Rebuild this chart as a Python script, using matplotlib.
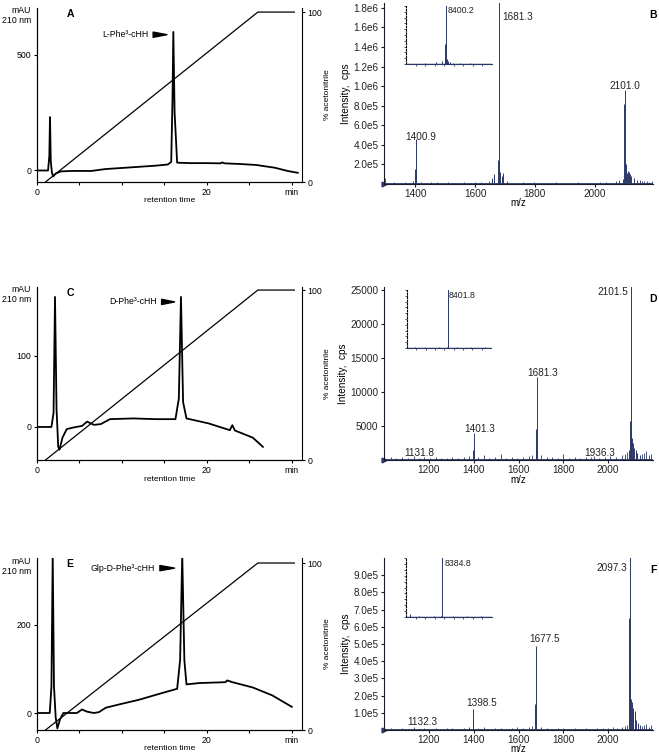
import matplotlib
matplotlib.use('Agg')
import matplotlib.pyplot as plt

plt.rcParams['font.family'] = ['Liberation Sans', 'DejaVu Sans']

# ---- HPLC traces: retention time (min) vs absorbance (mAU) ----
t_A = [0, 1.3, 1.45, 1.53, 1.62, 1.75, 1.9, 2.2, 2.8, 4, 6.4, 8, 10, 12, 14, 15.4, 15.8, 15.95, 16.05, 16.2, 16.5, 18, 20, 21.6, 21.8, 22.1, 24, 25.8, 28, 29.5, 30.7]
mau_A = [-2, -2, 60, 230, 40, -10, -28, -15, -6, -4, -4, 4, 9, 14, 19, 24, 35, 300, 600, 250, 32, 30, 30, 29, 33, 29, 26, 22, 10, -4, -12]

t_C = [0, 1.7, 1.95, 2.12, 2.3, 2.5, 2.65, 3.0, 3.5, 4.2, 5.3, 5.9, 6.7, 7.5, 8.6, 11.3, 14, 16.3, 16.7, 16.95, 17.2, 17.6, 20.2, 22.7, 23.0, 23.3, 25.4, 26.6]
mau_C = [0, 0, 20, 183, 25, -28, -32, -15, -3, -1, 1.5, 7.5, 3, 4, 11, 12, 11, 11, 40, 183, 35, 12, 5, -4.5, 2.5, -5, -15, -28]

t_E = [0, 1.5, 1.7, 1.85, 2.0, 2.2, 2.4, 2.7, 3.1, 4.7, 5.3, 5.9, 6.7, 7.3, 8.1, 10, 12, 14.3, 16.5, 16.85, 17.1, 17.35, 17.6, 19.1, 22.2, 22.4, 23, 25.4, 27.7, 30]
mau_E = [0, 0, 60, 360, 60, -10, -35, -15, 0, 0, 8, 3, 0, 2, 12, 21, 30, 43, 55, 120, 360, 120, 65, 68, 70, 74, 70, 58, 40, 14]

# acetonitrile gradient (%)
grad_t = [1, 26, 30.3]
grad_pct = [0, 100, 100]

# ---- mass spectra: m/z vs intensity (cps) ----
pk_mz_B = [1399.0, 1400.9, 1655, 1662, 1676, 1678.5, 1681.3, 1684, 1689, 1694, 2096, 2099, 2101.0, 2104, 2107, 2110, 2114, 2118, 2123, 2130, 2140]
pk_int_B = [1.5e5, 4.6e5, 6e4, 1.0e5, 2.5e5, 1.15e6, 1.95e6, 1.2e5, 8e4, 1.1e5, 5e4, 8.2e5, 9.6e5, 2e5, 1.1e5, 1.3e5, 1.2e5, 1e5, 8e4, 6e4, 4.5e4]
noise_mz_B = [1297, 1312, 1330, 1348, 1365, 1382, 1392, 1418, 1436, 1452,
              1471, 1489, 1508, 1526, 1545, 1563, 1582, 1600, 1618, 1637,
              1647, 1705, 1722, 1741, 1760, 1778, 1797, 1815, 1834, 1852,
              1871, 1889, 1908, 1926, 1945, 1963, 1982, 2000, 2019, 2037,
              2056, 2070, 2082, 2150, 2158, 2166, 2175, 2183, 2191]
noise_int_B = [6e4, 1.2e4, 1.8e4, 1.0e4, 2.2e4, 1.5e4, 3.5e4, 2.5e4, 1.2e4, 1.8e4,
               2.0e4, 1.0e4, 1.6e4, 1.2e4, 1.4e4, 2.2e4, 1.0e4, 1.8e4, 2.4e4, 1.2e4,
               3.0e4, 2.8e4, 1.4e4, 1.0e4, 1.6e4, 1.2e4, 2.0e4, 1.0e4, 1.4e4, 1.2e4,
               1.8e4, 1.0e4, 1.4e4, 1.2e4, 1.6e4, 1.0e4, 1.4e4, 1.2e4, 1.8e4, 2.0e4,
               1.5e4, 3.0e4, 4.0e4, 4.0e4, 3.5e4, 3.0e4, 3.5e4, 2.5e4, 3.0e4]

pk_mz_D = [1399, 1401.3, 1677, 1679, 1681.3, 1684, 2093, 2096, 2098, 2101.5, 2104, 2107, 2111, 2116, 2122, 2130, 2140]
pk_int_D = [1500, 4000, 1500, 4500, 12200, 1500, 1500, 3000, 5800, 26000, 3500, 3300, 2500, 1800, 1500, 1000, 800]
noise_mz_D = [1005, 1030, 1055, 1080, 1105, 1131.8, 1155, 1180, 1205, 1230,
              1255, 1280, 1305, 1330, 1355, 1380, 1420, 1445, 1470, 1495,
              1520, 1545, 1570, 1595, 1620, 1645, 1660, 1700, 1725, 1750,
              1775, 1800, 1825, 1850, 1875, 1900, 1925, 1936.3, 1960, 1985,
              2010, 2035, 2060, 2075, 2085, 2150, 2160, 2170, 2180, 2190]
noise_int_D = [300, 400, 250, 500, 350, 600, 300, 400, 250, 450,
               300, 350, 500, 300, 400, 600, 450, 700, 350, 400,
               900, 350, 500, 300, 450, 600, 800, 700, 400, 500,
               350, 900, 300, 450, 350, 500, 400, 600, 350, 450,
               600, 400, 700, 900, 1200, 900, 1000, 1300, 800, 900]

pk_mz_F = [1396, 1398.5, 1675, 1677.5, 1680, 2093, 2095, 2097.3, 2099, 2102, 2105, 2109, 2113, 2118, 2124, 2132, 2142]
pk_int_F = [4e4, 1.2e5, 1.5e5, 4.9e5, 5e4, 5e4, 6.5e5, 1.1e6, 3.5e5, 1.8e5, 1.6e5, 1.3e5, 1e5, 1.1e5, 6e4, 4e4, 3e4]
noise_mz_F = [1005, 1030, 1055, 1080, 1105, 1132.3, 1155, 1180, 1205, 1230,
              1255, 1280, 1305, 1330, 1355, 1380, 1420, 1445, 1470, 1495,
              1520, 1545, 1570, 1595, 1620, 1645, 1660, 1700, 1725, 1750,
              1775, 1800, 1825, 1850, 1875, 1900, 1925, 1950, 1975, 2000,
              2020, 2040, 2060, 2075, 2085, 2150, 2160, 2170, 2180, 2190]
noise_int_F = [8e3, 1.2e4, 6e3, 1e4, 8e3, 1.5e4, 7e3, 1e4, 6e3, 1.2e4,
               8e3, 1e4, 1.4e4, 7e3, 1e4, 1.8e4, 1.2e4, 1.5e4, 8e3, 1e4,
               1.2e4, 8e3, 1e4, 1.5e4, 1.2e4, 1.8e4, 2.5e4, 1.5e4, 1e4, 8e3,
               1e4, 1.4e4, 8e3, 1e4, 7e3, 1e4, 8e3, 1.2e4, 1e4, 1.4e4,
               1.5e4, 1.2e4, 2e4, 2.5e4, 3e4, 2.5e4, 3e4, 3.5e4, 2e4, 3e4]

# deconvoluted insets (relative intensity)
ins_mz_B = [8180, 8300, 8360, 8392, 8397, 8400.2, 8404, 8410, 8420, 8440, 8480, 8550, 8650]
ins_int_B = [0.02, 0.03, 0.05, 0.08, 0.35, 1.05, 0.12, 0.08, 0.05, 0.04, 0.02, 0.02, 0.01]
ins_mz_D = [8050, 8150, 8300, 8395, 8401.8, 8406, 8500, 8650, 8800]
ins_int_D = [0.01, 0.01, 0.01, 0.02, 1.05, 0.04, 0.01, 0.01, 0.01]
ins_mz_F = [8053, 8150, 8300, 8378, 8384.8, 8390, 8500, 8650, 8800]
ins_int_F = [0.05, 0.01, 0.01, 0.02, 1.05, 0.06, 0.01, 0.01, 0.01]

yt_B = [2e5, 4e5, 6e5, 8e5, 1e6, 1.2e6, 1.4e6, 1.6e6, 1.8e6]
ytl_B = ['2.0e5', '4.0e5', '6.0e5', '8.0e5', '1.0e6', '1.2e6', '1.4e6', '1.6e6', '1.8e6']
yt_D = [5000, 10000, 15000, 20000, 25000]
ytl_D = ['5000', '10000', '15000', '20000', '25000']
yt_F = [1e5, 2e5, 3e5, 4e5, 5e5, 6e5, 7e5, 8e5, 9e5]
ytl_F = ['1.0e5', '2.0e5', '3.0e5', '4.0e5', '5.0e5', '6.0e5', '7.0e5', '8.0e5', '9.0e5']

W, H = 659, 754
NAVY = '#2b3868'


def rect(l, t, r, b):
    return [l / W, 1 - b / H, (r - l) / W, (b - t) / H]


fig = plt.figure(figsize=(W / 100, H / 100), dpi=100)


def hplc(box, t, mau, ylim, yticks, name, name_xy, tip_xy, letter, gtop, tly):
    ax = fig.add_axes(rect(*box))
    ax.plot(t, mau, color='k', lw=1.3)
    ax.set_xlim(0, 31.2)
    ax.set_ylim(*ylim)
    ax.set_yticks(yticks)
    ax.set_xticks([0, 5, 10, 15, 20, 25, 30])
    ax.set_xticklabels(['0', '', '', '', '20', '', 'min'])
    for s in ['top', 'right']:
        ax.spines[s].set_visible(False)
    ax.tick_params(labelsize=6.3, length=2.5, width=0.8, pad=1.5)
    ax.set_xlabel('retention time', fontsize=6, va='center')
    ax.xaxis.set_label_coords(0.5, -19 / (box[3] - box[1]))
    ax2 = ax.twinx()
    ax2.plot(grad_t, grad_pct, color='k', lw=0.9)
    ax2.set_ylim(0, gtop)
    ax2.set_yticks([0, 100])
    ax2.spines['top'].set_visible(False)
    ax2.tick_params(labelsize=6.3, length=2.5, width=0.8, pad=1.5)
    ax2.set_ylabel('% acetonitrile', fontsize=6, labelpad=1)
    ax.annotate(name, xy=tip_xy, xytext=name_xy, ha='right', va='center', fontsize=6.3,
                arrowprops=dict(arrowstyle='wedge,tail_width=0.6', color='k',
                                shrinkA=1.5, shrinkB=0))
    fig.text(31 / W, 1 - tly / H, 'mAU\n210 nm', ha='right', va='top', fontsize=6.3,
             multialignment='right', linespacing=1.15)
    fig.text(70 / W, 1 - (box[1] + 6) / H, letter, ha='center', va='center',
             fontsize=7.5, fontweight='bold')
    return ax


def spectrum(box, pmz, pint, nmz, nint, xlim, ymax, xt, yt, ytl, labels, letter,
             ibox, imz, iint, ixlim, ilabel):
    ax = fig.add_axes(rect(*box))
    ax.vlines(nmz, 0, nint, color=NAVY, lw=0.6)
    ax.vlines(pmz, 0, pint, color=NAVY, lw=0.7)
    ax.axhline(0, color=NAVY, lw=2.0)
    ax.plot([xlim[0]], [0], marker='>', ms=3.5, color=NAVY, clip_on=False)
    ax.set_xlim(*xlim)
    ax.set_ylim(0, ymax)
    ax.set_xticks(xt)
    ax.set_yticks(yt)
    ax.set_yticklabels(ytl)
    for s in ['top', 'right']:
        ax.spines[s].set_visible(False)
    for s in ['left', 'bottom']:
        ax.spines[s].set_color('#1a1a2a')
        ax.spines[s].set_linewidth(0.8)
    ax.tick_params(labelsize=7.2, length=2.5, width=0.8, pad=1.5, colors='#1a1a2a',
                   labelcolor='#222222')
    ax.tick_params(axis='x', pad=0.8)
    ax.set_xlabel('m/z', fontsize=7, va='center')
    ax.xaxis.set_label_coords(0.5, -19.5 / (box[3] - box[1]))
    ax.set_ylabel('Intensity,  cps', fontsize=7.2, labelpad=2)
    for txt, x, y, ha in labels:
        ax.text(x, y, txt, ha=ha, va='center', fontsize=7.2, color='#222222')
    fig.text(653 / W, 1 - (box[1] + 12) / H, letter, ha='center', va='center',
             fontsize=7.5, fontweight='bold')

    ai = fig.add_axes(rect(*ibox))
    ai.vlines(imz, 0, iint, color=NAVY, lw=0.7)
    ai.axhline(0, color=NAVY, lw=1.0)
    ai.set_xlim(*ixlim)
    ai.set_ylim(0, 1.0)
    ai.set_xticks([ixlim[0] + 100 * k for k in range(1, 9)])
    ai.set_yticks([0.1 * k for k in range(0, 11)])
    ai.set_xticklabels([])
    ai.set_yticklabels([])
    ai.tick_params(length=1.5, width=0.6, colors=NAVY)
    for s in ['top', 'right']:
        ai.spines[s].set_visible(False)
    ai.spines['left'].set_linestyle((0, (1.5, 1.5)))
    ai.spines['left'].set_color('k')
    ai.spines['bottom'].set_color(NAVY)
    ai.patch.set_alpha(0)
    ai.text(ilabel[1], ilabel[2], ilabel[0], ha='left', va='center', fontsize=6.3,
            color='#222222')


hplc((37, 8, 302, 182), t_A, mau_A, (-52, 704), [0, 500], 'L-Phe³-cHH',
     (13.1, 588), (15.3, 588), 'A', 102.4, 6)
hplc((37, 287, 302, 460), t_C, mau_C, (-46.5, 197), [0, 100], 'D-Phe³-cHH',
     (14.1, 176), (16.2, 176), 'C', 101.8, 285)
hplc((37, 558, 302, 730), t_E, mau_E, (-38.6, 352), [0, 200], 'Glp-D-Phe³-cHH',
     (13.9, 329), (16.2, 329), 'E', 103, 557)

spectrum((384, 3, 653, 184), pk_mz_B, pk_int_B, noise_mz_B, noise_int_B,
         (1295, 2195), 1.85e6, [1400, 1600, 1800, 2000], yt_B, ytl_B,
         [('1681.3', 1690, 1.71e6, 'left'), ('2101.0', 2102, 1.0e6, 'center'),
          ('1400.9', 1419, 4.85e5, 'center')], 'B',
         (406, 6, 492, 64), ins_mz_B, ins_int_B, (7984, 8884), ('8400.2', 8416, 0.93))
spectrum((384, 287, 653, 460), pk_mz_D, pk_int_D, noise_mz_D, noise_int_D,
         (1000, 2200), 25500, [1200, 1400, 1600, 1800, 2000], yt_D, ytl_D,
         [('2101.5', 2089, 24750, 'right'), ('1681.3', 1708, 12800, 'center'),
          ('1401.3', 1428, 4560, 'center'), ('1131.8', 1158, 1030, 'center'),
          ('1936.3', 1964, 1030, 'center')], 'D',
         (407, 290, 491, 348), ins_mz_D, ins_int_D, (7962, 8862), ('8401.8', 8412, 0.91))
spectrum((384, 558, 653, 730), pk_mz_F, pk_int_F, noise_mz_F, noise_int_F,
         (1000, 2200), 1.0e6, [1200, 1400, 1600, 1800, 2000], yt_F, ytl_F,
         [('2097.3', 2085, 9.44e5, 'right'), ('1677.5', 1717, 5.27e5, 'center'),
          ('1398.5', 1437, 1.55e5, 'center'), ('1132.3', 1169, 4.5e4, 'center')], 'F',
         (406, 558, 492, 617), ins_mz_F, ins_int_F, (8011, 8911), ('8384.8', 8412, 0.91))

fig.savefig('out.png', dpi=100)
